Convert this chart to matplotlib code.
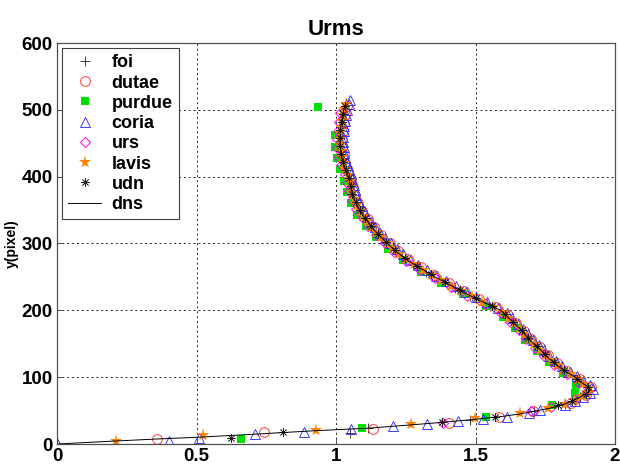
import matplotlib
matplotlib.use('Agg')
import matplotlib.pyplot as plt

plt.rcParams['font.family'] = 'Liberation Sans'
plt.rcParams['font.weight'] = 'bold'

# reference profile
dns_x = [0, 0.21, 0.36, 0.5, 0.7, 0.93, 1.11, 1.25, 1.37, 1.5,
         1.59, 1.66, 1.71, 1.76, 1.80, 1.84, 1.87, 1.895, 1.91, 1.905,
         1.88, 1.857, 1.825, 1.797, 1.775, 1.755, 1.735, 1.706, 1.685, 1.663,
         1.64, 1.615, 1.59, 1.54, 1.49, 1.445, 1.40, 1.355, 1.315, 1.275,
         1.24, 1.21, 1.185, 1.16, 1.137, 1.118, 1.10, 1.085, 1.072, 1.062,
         1.055, 1.05, 1.045, 1.035, 1.027, 1.02, 1.016, 1.014, 1.014, 1.016,
         1.019, 1.023, 1.028, 1.036]
dns_y = [0, 4.5, 7.5, 10, 14.5, 20, 23.5, 28, 32, 37,
         41, 45, 49, 53, 57, 63, 69, 75, 80, 85,
         92, 100, 108, 116, 124, 131, 140, 151, 160, 171,
         180, 190, 200, 210, 220, 230, 240, 250, 260, 270,
         280, 290, 300, 310, 320, 330, 340, 350, 360, 370,
         380, 390, 400, 410, 420, 430, 440, 450, 460, 470,
         480, 490, 500, 510]

foi_x = [1.05, 1.115, 1.48, 1.71,
         1.82, 1.875, 1.91, 1.884, 1.845, 1.804, 1.77, 1.739, 1.709, 1.681,
         1.655, 1.627, 1.595, 1.54, 1.481, 1.427, 1.373, 1.323, 1.275, 1.234,
         1.203, 1.17, 1.142, 1.118, 1.098, 1.08, 1.066, 1.056, 1.05, 1.043,
         1.032, 1.023, 1.017, 1.014, 1.014, 1.017, 1.021, 1.027, 1.036]
foi_y = [16, 24, 36, 50,
         60, 70, 81, 91, 103, 114, 126, 138, 150, 162,
         174, 186, 198, 210, 222, 234, 246, 258, 270, 282,
         294, 306, 318, 330, 342, 354, 366, 378, 390, 402,
         414, 426, 438, 450, 462, 474, 486, 498, 510]

dutae_x = [0.36, 0.743, 1.131, 1.405, 1.585, 1.707,
           1.841, 1.895, 1.913, 1.874, 1.829, 1.791, 1.759, 1.73, 1.70, 1.675,
           1.645, 1.615, 1.573, 1.513, 1.457, 1.404, 1.351, 1.303, 1.258, 1.221,
           1.192, 1.161, 1.135, 1.113, 1.094, 1.079, 1.068, 1.061, 1.054, 1.044,
           1.034, 1.027, 1.023, 1.022, 1.024, 1.027, 1.033, 1.04]
dutae_y = [7.5, 17.5, 23, 31, 40, 50,
           62, 73, 85, 97, 109, 121, 133, 145, 157, 169,
           181, 193, 205, 217, 229, 241, 253, 265, 277, 289,
           301, 313, 325, 337, 349, 361, 373, 385, 397, 409,
           421, 433, 445, 457, 469, 481, 493, 505]

purdue_x = [0.66, 1.092, 1.537, 1.775, 1.857, 1.862,
            1.815, 1.762, 1.719, 1.676, 1.64, 1.597, 1.537, 1.454, 1.377, 1.305,
            1.239, 1.187, 1.145, 1.107, 1.077, 1.054, 1.039, 1.03, 1.016, 1.004,
            0.997, 0.996, 0.935]
purdue_y = [7.5, 23.5, 41, 58, 76, 88,
            106, 122, 139, 156, 173, 190, 207, 224, 241, 258,
            275, 292, 309, 326, 343, 360, 377, 394, 411, 428,
            445, 462, 504]

coria_x = [0, 0.40, 0.51, 0.71, 0.884, 1.053, 1.205, 1.325, 1.438, 1.528, 1.612, 1.69, 1.73,
           1.819, 1.857, 1.887, 1.91, 1.921, 1.91, 1.887, 1.865, 1.837, 1.809,
           1.787, 1.765, 1.747, 1.726, 1.706, 1.689, 1.672, 1.652, 1.632, 1.612,
           1.582, 1.542, 1.502, 1.466, 1.43, 1.394, 1.359, 1.327, 1.295, 1.266,
           1.24, 1.217, 1.197, 1.177, 1.158, 1.141, 1.126, 1.112, 1.10, 1.089,
           1.08, 1.072, 1.067, 1.063, 1.059, 1.053, 1.045, 1.039, 1.033, 1.03,
           1.027, 1.026, 1.026, 1.028, 1.03, 1.033, 1.036, 1.04, 1.046, 1.05]
coria_y = [1, 4, 8.5, 14.5, 18.5, 22, 27, 30, 34, 38, 41, 47, 51,
           58, 64, 70, 76, 82, 88, 94, 101, 108, 116,
           124, 132, 140, 148, 156, 164, 172, 180, 188, 196,
           204, 212, 220, 228, 236, 244, 252, 260, 268, 276,
           284, 292, 300, 308, 316, 324, 332, 340, 348, 356,
           364, 372, 380, 388, 396, 404, 412, 420, 428, 436,
           444, 452, 460, 468, 476, 484, 492, 500, 508, 514]

urs_x = [1.385, 1.70,
         1.77, 1.855, 1.90, 1.867, 1.828, 1.782, 1.745, 1.714, 1.682, 1.655,
         1.622, 1.59, 1.535, 1.471, 1.412, 1.354, 1.301, 1.251, 1.209, 1.175,
         1.143, 1.115, 1.092, 1.072, 1.057, 1.046, 1.04, 1.031, 1.019, 1.01,
         1.005, 1.004, 1.006, 1.01, 1.015]
urs_y = [31, 49,
         55, 68, 80, 93, 105, 118, 131, 144, 157, 170,
         183, 196, 209, 222, 235, 248, 261, 274, 287, 300,
         313, 326, 339, 352, 365, 378, 391, 404, 417, 430,
         443, 456, 469, 482, 495]

lavis_x = [0.21, 0.524, 0.93, 1.269, 1.498, 1.66, 1.761,
           1.82, 1.855, 1.883, 1.904, 1.907, 1.887, 1.866, 1.841, 1.814, 1.792,
           1.772, 1.751, 1.732, 1.711, 1.692, 1.675, 1.658, 1.637, 1.617, 1.597,
           1.565, 1.525, 1.486, 1.449, 1.413, 1.377, 1.343, 1.311, 1.279, 1.25,
           1.225, 1.202, 1.182, 1.162, 1.144, 1.127, 1.112, 1.098, 1.086, 1.076,
           1.066, 1.058, 1.053, 1.049, 1.043, 1.034, 1.027, 1.021, 1.017, 1.015,
           1.014, 1.015, 1.017, 1.02, 1.024, 1.029, 1.035]
lavis_y = [4.5, 13.5, 21, 30, 38.4, 46, 53.4,
           60, 66, 72, 78, 84, 90, 97, 104, 111, 118,
           125, 133, 141, 149, 157, 165, 173, 181, 189, 197,
           205, 213, 221, 229, 237, 245, 253, 261, 269, 277,
           285, 293, 301, 309, 317, 325, 333, 341, 349, 357,
           366, 375, 384, 393, 402, 411, 420, 429, 438, 447,
           456, 465, 474, 483, 492, 501, 509]

udn_x = [0.625, 0.81, 1.379, 1.57, 1.795,
         1.845, 1.895, 1.903, 1.863, 1.818, 1.781, 1.749, 1.72, 1.689, 1.665,
         1.635, 1.605, 1.56, 1.50, 1.445, 1.391, 1.339, 1.291, 1.246, 1.21,
         1.18, 1.151, 1.125, 1.103, 1.085, 1.07, 1.059, 1.052, 1.046, 1.035,
         1.026, 1.019, 1.015, 1.014, 1.016, 1.02, 1.024, 1.032]
udn_y = [8.5, 17.5, 33.4, 40, 58,
         64, 75, 86, 98, 110, 122, 134, 146, 158, 170,
         182, 194, 206, 218, 230, 242, 254, 266, 278, 290,
         302, 314, 326, 338, 350, 362, 374, 386, 398, 410,
         422, 434, 446, 458, 470, 482, 494, 506]

fig = plt.figure(figsize=(6.2, 4.69), dpi=100)
ax = fig.add_axes([57/620, 25/469, 558/620, 401/469])

ax.plot(foi_x, foi_y, '+', color='#202020', ms=6.5, mew=0.6, label='foi')
ax.plot(dutae_x, dutae_y, 'o', mfc='none', mec='#ff3a3a', ms=7, mew=0.7, label='dutae')
ax.plot(purdue_x, purdue_y, 's', color='#00e000', ms=6, mew=0, label='purdue')
ax.plot(coria_x, coria_y, '^', mfc='none', mec='#2020ff', ms=7.5, mew=0.6, label='coria')
ax.plot(urs_x, urs_y, 'D', mfc='none', mec='#ff00ff', ms=5.5, mew=0.7, label='urs')
ax.plot(lavis_x, lavis_y, '*', color='#ff8000', ms=9.5, mew=0, label='lavis')
ax.plot(udn_x, udn_y, ls='none', marker=(8, 2, 0), color='#202020', ms=6, mew=0.5, label='udn')
ax.plot(dns_x, dns_y, '-', color='k', lw=0.7, label='dns')

ax.set_xlim(0, 2)
ax.set_ylim(0, 600)
ax.set_xticks([0, 0.5, 1, 1.5, 2])
ax.set_xticklabels(['0', '0.5', '1', '1.5', '2'])
ax.set_yticks(range(0, 601, 100))
ax.tick_params(direction='in', length=4, width=0.6, color='#404040', labelsize=13.5, pad=3)
ax.grid(True, color='#202020', linestyle=(0, (2, 3)), linewidth=0.7)
for s in ax.spines.values():
    s.set_color('#505050')
    s.set_linewidth(0.9)

ax.set_title('Urms', fontsize=16, fontweight='bold', pad=6)
ax.set_ylabel('y(pixel)', fontsize=10, fontweight='bold', labelpad=2)

leg = ax.legend(loc='upper left', bbox_to_anchor=(5/558, 1 - 5/401), borderaxespad=0,
                fontsize=13, fancybox=False, framealpha=1, edgecolor='#404040',
                handlelength=1.8, handletextpad=0.6, labelspacing=0.18, borderpad=0.35)
leg.get_frame().set_linewidth(0.8)

plt.savefig('out.png', dpi=100)
